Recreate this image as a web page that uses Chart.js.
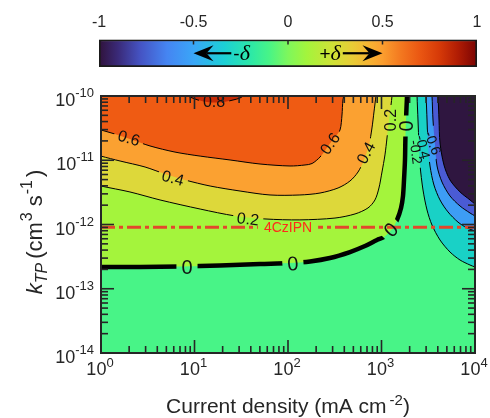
<!DOCTYPE html>
<html>
<head>
<meta charset="utf-8">
<script src="https://cdn.jsdelivr.net/npm/chart.js@4.4.1/dist/chart.umd.min.js"></script>
<style>
  body { margin: 0; background: #fff; }
  #wrap { position: relative; width: 490px; height: 418px; }
  canvas { position: absolute; left: 0; top: 0; }
</style>
</head>
<body>
<div id="wrap">
  <canvas id="main" width="490" height="418"></canvas>
  <canvas id="cbar" width="490" height="80"></canvas>
</div>
<script>
const FONT = '"Liberation Sans", Arial, Helvetica, sans-serif';
const AX = '#262626';

// axes: current density (mA cm^-2) and k_TP (cm^3 s^-1)
const xRange = [1, 1e4];
const yRange = [1e-14, 1e-10];
const xDecades = [0, 1, 2, 3, 4];
const yDecades = [-14, -13, -12, -11, -10];
const cbTicks = [-1, -0.5, 0, 0.5, 1];

// contour lines, [current density, k_TP]
const levels = [0, 0.2, 0.4, 0.6, 0.8, -0.2, -0.4, -0.6, -0.8];

const c00 = [[0.93,2.18e-13],[1,2.18e-13],[2.61,2.18e-13],[7.0,2.22e-13],[18.7,2.30e-13],[50.2,2.43e-13],[105,2.52e-13],[172,2.66e-13],[281,3.01e-13],[460,3.73e-13],[666,4.63e-13],[895,5.74e-13],[1064,6.38e-13],[1295,8.51e-13],[1466,1.18e-12],[1618,1.81e-12],[1698,2.78e-12],[1741,4.93e-12],[1783,1.01e-11],[1800,2.07e-11],[1828,4.23e-11],[1875,1e-10],[1890,1.24e-10]];
const c02 = [[0.93,4.12e-12],[1,3.97e-12],[2.04,3.21e-12],[4.28,2.41e-12],[11.5,1.74e-12],[27.1,1.36e-12],[56.7,1.22e-12],[134,1.18e-12],[318,1.26e-12],[521,1.46e-12],[717,1.81e-12],[851,2.41e-12],[939,3.70e-12],[1012,6.56e-12],[1089,1.21e-11],[1145,2.22e-11],[1203,4.23e-11],[1264,7.24e-11],[1295,1e-10],[1300,1.24e-10]];
const c04 = [[0.93,1.21e-11],[1,1.16e-11],[1.60,9.73e-12],[2.96,7.85e-12],[4.84,6.11e-12],[7.91,4.93e-12],[14.7,3.97e-12],[30.7,3.32e-12],[64.2,2.88e-12],[134,2.88e-12],[220,3.09e-12],[343,3.70e-12],[460,4.75e-12],[561,6.56e-12],[650,1.01e-11],[735,1.73e-11],[791,3.18e-11],[831,5.64e-11],[873,1e-10],[895,1.24e-10]];
const c06 = [[0.93,3.06e-11],[1,2.96e-11],[1.41,2.56e-11],[2.04,2.14e-11],[3.34,1.67e-11],[6.19,1.34e-11],[11.5,1.16e-11],[24.0,1.01e-11],[50.2,8.74e-12],[105,8.14e-12],[152,8.44e-12],[181,8.9e-12],[220,1.12e-11],[249,1.42e-11],[281,1.82e-11],[318,2.30e-11],[360,2.96e-11],[378,5.06e-11],[387,8.66e-11],[407,1.24e-10]];
const c08 = [[7.54,1.11e-10],[8.95,9.65e-11],[10.9,8.66e-11],[13.6,8.07e-11],[16.6,7.92e-11],[20.7,8.07e-11],[25.8,8.66e-11],[30.7,9.31e-11],[35.5,1.07e-10]];
const cm02 = [[2399,1.24e-10],[2400,1e-10],[2456,4.23e-11],[2518,1.73e-11],[2582,8.44e-12],[2780,3.44e-12],[3069,1.68e-12],[3467,9.82e-13],[4224,5.74e-13],[5404,3.73e-13],[6918,2.80e-13],[8847,2.34e-13],[10000,2.18e-13],[11300,2.03e-13]];
const cm04 = [[2918,1.24e-10],[2992,1e-10],[3069,4.23e-11],[3142,1.73e-11],[3302,8.14e-12],[3639,4.12e-12],[4224,2.41e-12],[5140,1.57e-12],[6577,1.09e-12],[8206,8.83e-13],[10000,7.92e-13],[11300,7.38e-13]];
const cm06 = [[3383,1.24e-10],[3467,1e-10],[3555,4.23e-11],[3735,1.73e-11],[3926,8.14e-12],[4436,4.58e-12],[5404,2.78e-12],[6918,1.94e-12],[8847,1.51e-12],[10000,1.36e-12],[11300,1.26e-12]];
const cm08 = [[3926,1.24e-10],[4018,1e-10],[4121,4.23e-11],[4224,1.86e-11],[4656,8.44e-12],[5404,4.93e-12],[6918,3.21e-12],[8847,2.41e-12],[10000,2.08e-12],[11300,1.87e-12]];
const contours = [c00, c02, c04, c06, c08, cm02, cm04, cm06, cm08];

// fill of the band beyond each level, plus the (-0.2, 0) band behind everything
const bandColors = ['#a4f43c', '#ddd83a', '#fba131', '#ef5b13', '#c52b06', '#19d1c6', '#3d9df5', '#4a5bd4', '#2f1640'];
const baseColor = '#48f487';

// inline labels on the contour lines
const contourLabels = [
  {level: 0.8, x: 16.2, y: 8.07e-11, rot: 0},
  {level: 0.6, x: 1.99, y: 2.22e-11, rot: 17},
  {level: 0.4, x: 5.89, y: 5.30e-12, rot: 15},
  {level: 0.2, x: 37.4, y: 1.22e-12, rot: 7},
  {level: 0, x: 8.31, y: 2.18e-13, rot: 0},
  {level: 0, x: 113, y: 2.43e-13, rot: -4},
  {level: 0, x: 1264, y: 8.2e-13, rot: -45},
  {level: 0, x: 1850, y: 3.41e-11, rot: -90},
  {level: 0.6, x: 281, y: 1.82e-11, rot: -55},
  {level: 0.4, x: 680, y: 1.30e-11, rot: -62},
  {level: 0.2, x: 1250, y: 4.23e-11, rot: -90},
  {level: -0.2, x: 2339, y: 1.34e-11, rot: 82},
  {level: -0.4, x: 2780, y: 1.61e-11, rot: 76},
  {level: -0.6, x: 3555, y: 1.86e-11, rot: 70}
];

// reference material
const refK = 9.1e-13;
const refName = '4CzIPN';
const refX = 100;

// colour scale of the bar on top
const cmap = [[0,'#30123b'],[0.05,'#3a2a78'],[0.11,'#4554c4'],[0.18,'#4585f2'],[0.25,'#3aa6f8'],[0.33,'#1ccfd6'],[0.4,'#2ce8a8'],[0.45,'#48f487'],[0.5,'#7ef75c'],[0.55,'#a4f43c'],[0.62,'#d0e136'],[0.67,'#e8cc36'],[0.72,'#f8b032'],[0.75,'#fb9e2f'],[0.8,'#f3771f'],[0.85,'#ea5612'],[0.9,'#d63a08'],[0.95,'#b01c04'],[1,'#7a0403']];

const toPts = arr => arr.map(([x, y]) => ({x, y}));
const labelSize = lv => lv === 0 ? 20 : (lv < 0 ? 14 : 16);

function corners(cx, cy, w, h, deg) {
  const a = deg * Math.PI / 180, c = Math.cos(a), s = Math.sin(a);
  return [[-w/2,-h/2],[w/2,-h/2],[w/2,h/2],[-w/2,h/2]].map(([u, v]) => [cx + u*c - v*s, cy + u*s + v*c]);
}

function logTicks([lo, hi]) {
  const out = [];
  for (let e = Math.floor(Math.log10(lo)); e <= Math.ceil(Math.log10(hi)); e++) {
    for (let k = 1; k < 10; k++) {
      const v = k * Math.pow(10, e);
      if (v >= lo * 0.999 && v <= hi * 1.001) out.push({v, major: k === 1});
    }
  }
  return out;
}

// pieces: [text, size, dy, style, family, gapAfter]
function drawPieces(ctx, pieces, x, y, align) {
  const fontOf = p => (p[3] || '') + ' ' + p[1] + 'px ' + (p[4] || FONT);
  const widths = pieces.map(p => { ctx.font = fontOf(p); return ctx.measureText(p[0]).width + (p[5] || 0); });
  const total = widths.reduce((s, w) => s + w, 0);
  let cx = align === 'center' ? x - total / 2 : (align === 'right' ? x - total : x);
  ctx.textAlign = 'left';
  ctx.textBaseline = 'alphabetic';
  pieces.forEach((p, i) => {
    ctx.font = fontOf(p);
    ctx.fillText(p[0], cx, y + (p[2] || 0));
    cx += widths[i];
  });
}

function seg(ctx, x1, y1, x2, y2) {
  ctx.beginPath(); ctx.moveTo(x1, y1); ctx.lineTo(x2, y2); ctx.stroke();
}

// background band of the plotting area
const areaBg = {
  id: 'areaBg',
  beforeDatasetsDraw(chart) {
    const {ctx, chartArea: a} = chart;
    ctx.save();
    ctx.fillStyle = baseColor;
    ctx.fillRect(a.left, a.top, a.width, a.height);
    ctx.restore();
  }
};

// cut the contour lines where their labels sit
const gaps = {
  id: 'gaps',
  beforeDatasetDraw(chart, args) {
    const ds = chart.data.datasets[args.index];
    const {ctx, chartArea: a, scales: {x, y}} = chart;
    const holes = [];
    if (ds.level !== undefined) {
      contourLabels.filter(l => l.level === ds.level).forEach(l => {
        const size = labelSize(l.level);
        ctx.font = size + 'px ' + FONT;
        const pad = l.level === 0 ? 5 : 4;
        const w = ctx.measureText(String(l.level)).width + 2 * pad;
        holes.push(corners(x.getPixelForValue(l.x), y.getPixelForValue(l.y), w, size * 0.8 + 4, l.rot));
      });
    } else if (ds.isRef) {
      ctx.font = '14px ' + FONT;
      const w = ctx.measureText(refName).width + 12;
      holes.push(corners(x.getPixelForValue(refX), y.getPixelForValue(refK), w, 16, 0));
    }
    if (!holes.length) return;
    ctx.save();
    ctx.beginPath();
    ctx.rect(a.left - 10, a.top - 10, a.width + 20, a.height + 20);
    holes.forEach(h => {
      ctx.moveTo(h[0][0], h[0][1]);
      h.slice(1).forEach(p => ctx.lineTo(p[0], p[1]));
      ctx.closePath();
    });
    ctx.clip('evenodd');
    args.meta._gap = true;
  },
  afterDatasetDraw(chart, args) {
    if (args.meta._gap) {
      chart.ctx.restore();
      args.meta._gap = false;
    }
  }
};

const labels = {
  id: 'labels',
  afterDatasetsDraw(chart) {
    const {ctx, scales: {x, y}} = chart;
    ctx.save();
    ctx.textAlign = 'center';
    ctx.textBaseline = 'middle';
    contourLabels.forEach(l => {
      ctx.save();
      ctx.translate(x.getPixelForValue(l.x), y.getPixelForValue(l.y));
      ctx.rotate(l.rot * Math.PI / 180);
      ctx.font = labelSize(l.level) + 'px ' + FONT;
      ctx.fillStyle = '#111';
      ctx.fillText(String(l.level), 0, 1);
      ctx.restore();
    });
    ctx.font = '14px ' + FONT;
    ctx.fillStyle = '#ff2a1a';
    ctx.fillText(refName, x.getPixelForValue(refX), y.getPixelForValue(refK) + 1);
    ctx.restore();
  }
};

const axesDecor = {
  id: 'axesDecor',
  afterDraw(chart) {
    const {ctx, chartArea: a, scales: {x, y}} = chart;
    ctx.save();
    ctx.strokeStyle = AX;
    ctx.fillStyle = AX;
    ctx.lineWidth = 1.6;
    logTicks(xRange).forEach(t => {
      const p = x.getPixelForValue(t.v), len = t.major ? 13 : 7;
      seg(ctx, p, a.bottom, p, a.bottom - len);
      seg(ctx, p, a.top, p, a.top + len);
    });
    logTicks(yRange).forEach(t => {
      const p = y.getPixelForValue(t.v), len = t.major ? 13 : 7;
      seg(ctx, a.left, p, a.left + len, p);
      seg(ctx, a.right, p, a.right - len, p);
    });
    ctx.lineWidth = 2;
    ctx.strokeRect(a.left, a.top, a.width, a.height);

    xDecades.forEach(e => {
      drawPieces(ctx, [['10', 18, 0], [String(e), 13, -8]], x.getPixelForValue(Math.pow(10, e)) - 1, a.bottom + 22, 'center');
    });
    yDecades.forEach(e => {
      drawPieces(ctx, [['10', 18, 0], [String(e), 13, -9]], a.left - 7, y.getPixelForValue(Math.pow(10, e)) + 10, 'right');
    });

    drawPieces(ctx, [['Current density (mA cm', 21, 0, '', FONT, 3], ['-2', 15, -8], [')', 21, 0]], (a.left + a.right) / 2, a.bottom + 60, 'center');

    ctx.save();
    ctx.translate(42, 232);
    ctx.rotate(-Math.PI / 2);
    drawPieces(ctx, [['k', 22, 0, 'italic'], ['TP', 16, 5, 'italic', FONT, 4], ['(cm', 22, 0, '', FONT, 1], ['3', 16, -10, '', FONT, 6], ['s', 22, 0, '', FONT, 1], ['-1', 16, -10, '', FONT, 3], [')', 22, 0]], 0, 0, 'center');
    ctx.restore();
    ctx.restore();
  }
};

const contourSets = levels.map((lv, i) => ({
  data: toPts(contours[i]),
  level: lv,
  fill: 'end',
  backgroundColor: bandColors[i],
  borderColor: '#000',
  borderWidth: lv === 0 ? 4.5 : 1,
  borderCapStyle: 'butt',
  borderJoinStyle: 'round',
  pointRadius: 0,
  tension: 0.3,
  order: 20 - Math.abs(lv) * 10
}));

const refSet = {
  data: toPts([[xRange[0], refK], [xRange[1], refK]]),
  isRef: true,
  fill: false,
  borderColor: '#e2472b',
  borderWidth: 3,
  borderDash: [14, 4, 4, 4],
  borderCapStyle: 'butt',
  pointRadius: 0,
  order: -1
};

new Chart(document.getElementById('main'), {
  type: 'line',
  data: { datasets: [...contourSets, refSet] },
  options: {
    responsive: false,
    animation: false,
    devicePixelRatio: 1,
    events: [],
    layout: { padding: { left: 101, right: 15, top: 96, bottom: 65 } },
    elements: { line: { capBezierPoints: false } },
    scales: {
      x: { type: 'logarithmic', min: xRange[0], max: xRange[1], display: false },
      y: { type: 'logarithmic', min: yRange[0], max: yRange[1], display: false }
    },
    plugins: { legend: { display: false }, tooltip: { enabled: false } }
  },
  plugins: [areaBg, gaps, labels, axesDecor]
});

// colour bar with the -delta / +delta arrows
function arrow(ctx, from, tip, cy) {
  const dir = Math.sign(tip - from);
  const L = 20, H = 8, N = 13;
  ctx.lineWidth = 2.2;
  seg(ctx, from, cy, tip - dir * N, cy);
  ctx.beginPath();
  ctx.moveTo(tip, cy);
  ctx.lineTo(tip - dir * L, cy - H);
  ctx.lineTo(tip - dir * N, cy);
  ctx.lineTo(tip - dir * L, cy + H);
  ctx.closePath();
  ctx.fill();
}

const cbarDecor = {
  id: 'cbarDecor',
  afterDatasetsDraw(chart) {
    const {ctx, chartArea: a, scales: {x}} = chart;
    ctx.save();
    ctx.strokeStyle = AX;
    ctx.lineWidth = 1.5;
    cbTicks.slice(1, -1).forEach(v => {
      const p = x.getPixelForValue(v);
      seg(ctx, p, a.top + 1, p, a.top + 5);
    });
    const cy = (a.top + a.bottom) / 2;
    ctx.fillStyle = '#000';
    ctx.strokeStyle = '#000';
    arrow(ctx, x.getPixelForValue(-0.3), x.getPixelForValue(-0.5), cy);
    arrow(ctx, x.getPixelForValue(0.29), x.getPixelForValue(0.5), cy);
    const serif = '"Liberation Serif", "DejaVu Serif", serif';
    drawPieces(ctx, [['-', 19, 0], ['\u03b4', 22, 0, 'italic', serif]], x.getPixelForValue(-0.3) + 2, cy + 7, 'left');
    drawPieces(ctx, [['+', 19, 0], ['\u03b4', 22, 0, 'italic', serif]], x.getPixelForValue(0.29) - 2, cy + 7, 'right');
    ctx.restore();
  }
};

new Chart(document.getElementById('cbar'), {
  type: 'bar',
  data: {
    labels: [''],
    datasets: [{
      data: [[cbTicks[0], cbTicks[cbTicks.length - 1]]],
      backgroundColor: c => {
        const ch = c.chart;
        if (!ch.chartArea) return '#888';
        const xs = ch.scales.x;
        const g = ch.ctx.createLinearGradient(xs.getPixelForValue(-1), 0, xs.getPixelForValue(1), 0);
        cmap.forEach(([f, col]) => g.addColorStop(f, col));
        return g;
      },
      borderColor: '#1a1a1a',
      borderWidth: 2,
      borderSkipped: false,
      barPercentage: 1,
      categoryPercentage: 1
    }]
  },
  options: {
    indexAxis: 'y',
    responsive: false,
    animation: false,
    devicePixelRatio: 1,
    events: [],
    layout: { padding: { left: 99, right: 13, top: 12, bottom: 13 } },
    scales: {
      x: {
        position: 'top', min: -1, max: 1,
        ticks: { stepSize: 0.5, color: AX, font: { size: 16, family: FONT }, padding: 7, callback: v => String(v) },
        grid: { display: false, drawTicks: false },
        border: { display: false }
      },
      y: { display: false }
    },
    plugins: { legend: { display: false }, tooltip: { enabled: false } }
  },
  plugins: [cbarDecor]
});
</script>
</body>
</html>
